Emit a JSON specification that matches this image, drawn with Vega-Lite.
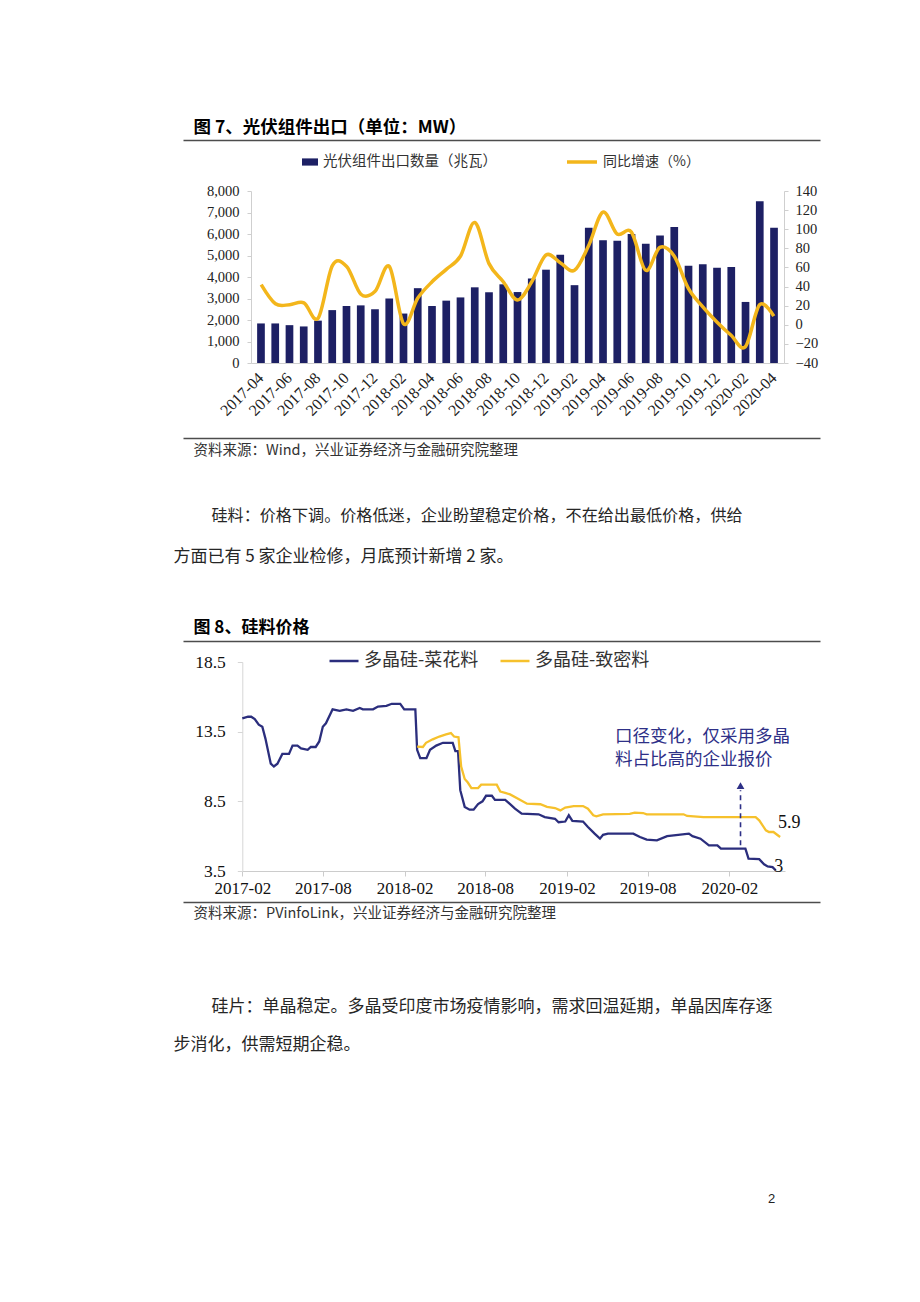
{
  "$schema": "https://vega.github.io/schema/vega-lite/v6.json",
  "width": 920,
  "height": 1302,
  "autosize": {"type": "none"},
  "padding": 0,
  "background": "white",
  "config": {"view": {"stroke": null}, "axis": {"grid": false}},
  "datasets": {
    "exports": [
      {"month": "2017-04", "export": 1840, "yoy": 42},
      {"month": "2017-05", "export": 1840, "yoy": 22},
      {"month": "2017-06", "export": 1760, "yoy": 21},
      {"month": "2017-07", "export": 1700, "yoy": 23},
      {"month": "2017-08", "export": 1970, "yoy": 7},
      {"month": "2017-09", "export": 2460, "yoy": 62},
      {"month": "2017-10", "export": 2650, "yoy": 61},
      {"month": "2017-11", "export": 2680, "yoy": 32},
      {"month": "2017-12", "export": 2500, "yoy": 35},
      {"month": "2018-01", "export": 3000, "yoy": 61},
      {"month": "2018-02", "export": 2300, "yoy": 1},
      {"month": "2018-03", "export": 3480, "yoy": 28},
      {"month": "2018-04", "export": 2650, "yoy": 45},
      {"month": "2018-05", "export": 2900, "yoy": 58},
      {"month": "2018-06", "export": 3050, "yoy": 72},
      {"month": "2018-07", "export": 3520, "yoy": 107},
      {"month": "2018-08", "export": 3290, "yoy": 64},
      {"month": "2018-09", "export": 3660, "yoy": 45},
      {"month": "2018-10", "export": 3300, "yoy": 26},
      {"month": "2018-11", "export": 3930, "yoy": 45},
      {"month": "2018-12", "export": 4340, "yoy": 73},
      {"month": "2019-01", "export": 5040, "yoy": 65},
      {"month": "2019-02", "export": 3620, "yoy": 57},
      {"month": "2019-03", "export": 6290, "yoy": 83},
      {"month": "2019-04", "export": 5710, "yoy": 118},
      {"month": "2019-05", "export": 5690, "yoy": 95},
      {"month": "2019-06", "export": 6000, "yoy": 97},
      {"month": "2019-07", "export": 5550, "yoy": 57},
      {"month": "2019-08", "export": 5930, "yoy": 81},
      {"month": "2019-09", "export": 6320, "yoy": 72},
      {"month": "2019-10", "export": 4520, "yoy": 38},
      {"month": "2019-11", "export": 4590, "yoy": 19},
      {"month": "2019-12", "export": 4430, "yoy": 3},
      {"month": "2020-01", "export": 4460, "yoy": -11},
      {"month": "2020-02", "export": 2840, "yoy": -23},
      {"month": "2020-03", "export": 7520, "yoy": 21},
      {"month": "2020-04", "export": 6290, "yoy": 9}
    ],
    "price": [
      {"series": "多晶硅-菜花料", "date": "2017-02-01", "price": 14.45},
      {"series": "多晶硅-菜花料", "date": "2017-02-14", "price": 14.57},
      {"series": "多晶硅-菜花料", "date": "2017-02-21", "price": 14.57},
      {"series": "多晶硅-菜花料", "date": "2017-03-01", "price": 14.4},
      {"series": "多晶硅-菜花料", "date": "2017-03-10", "price": 14.0},
      {"series": "多晶硅-菜花料", "date": "2017-03-18", "price": 13.85},
      {"series": "多晶硅-菜花料", "date": "2017-03-25", "price": 13.0},
      {"series": "多晶硅-菜花料", "date": "2017-04-06", "price": 11.2},
      {"series": "多晶硅-菜花料", "date": "2017-04-13", "price": 11.0},
      {"series": "多晶硅-菜花料", "date": "2017-04-21", "price": 11.2},
      {"series": "多晶硅-菜花料", "date": "2017-05-02", "price": 11.9},
      {"series": "多晶硅-菜花料", "date": "2017-05-17", "price": 11.9},
      {"series": "多晶硅-菜花料", "date": "2017-05-25", "price": 12.5},
      {"series": "多晶硅-菜花料", "date": "2017-06-05", "price": 12.5},
      {"series": "多晶硅-菜花料", "date": "2017-06-13", "price": 12.3},
      {"series": "多晶硅-菜花料", "date": "2017-06-28", "price": 12.2},
      {"series": "多晶硅-菜花料", "date": "2017-07-05", "price": 12.4},
      {"series": "多晶硅-菜花料", "date": "2017-07-16", "price": 12.4},
      {"series": "多晶硅-菜花料", "date": "2017-07-24", "price": 12.8},
      {"series": "多晶硅-菜花料", "date": "2017-08-01", "price": 13.85},
      {"series": "多晶硅-菜花料", "date": "2017-08-08", "price": 14.1},
      {"series": "多晶硅-菜花料", "date": "2017-08-23", "price": 15.1},
      {"series": "多晶硅-菜花料", "date": "2017-09-08", "price": 15.0},
      {"series": "多晶硅-菜花料", "date": "2017-09-23", "price": 15.1},
      {"series": "多晶硅-菜花料", "date": "2017-10-08", "price": 15.0},
      {"series": "多晶硅-菜花料", "date": "2017-10-23", "price": 15.2},
      {"series": "多晶硅-菜花料", "date": "2017-10-30", "price": 15.1},
      {"series": "多晶硅-菜花料", "date": "2017-11-22", "price": 15.1},
      {"series": "多晶硅-菜花料", "date": "2017-12-03", "price": 15.3},
      {"series": "多晶硅-菜花料", "date": "2017-12-22", "price": 15.35},
      {"series": "多晶硅-菜花料", "date": "2018-01-03", "price": 15.5},
      {"series": "多晶硅-菜花料", "date": "2018-01-22", "price": 15.5},
      {"series": "多晶硅-菜花料", "date": "2018-01-31", "price": 15.1},
      {"series": "多晶硅-菜花料", "date": "2018-02-25", "price": 15.1},
      {"series": "多晶硅-菜花料", "date": "2018-03-01", "price": 12.2},
      {"series": "多晶硅-菜花料", "date": "2018-03-08", "price": 11.6},
      {"series": "多晶硅-菜花料", "date": "2018-03-22", "price": 11.6},
      {"series": "多晶硅-菜花料", "date": "2018-03-30", "price": 12.2},
      {"series": "多晶硅-菜花料", "date": "2018-04-13", "price": 12.5},
      {"series": "多晶硅-菜花料", "date": "2018-04-28", "price": 12.7},
      {"series": "多晶硅-菜花料", "date": "2018-05-20", "price": 12.7},
      {"series": "多晶硅-菜花料", "date": "2018-05-26", "price": 12.1},
      {"series": "多晶硅-菜花料", "date": "2018-06-01", "price": 12.1},
      {"series": "多晶硅-菜花料", "date": "2018-06-06", "price": 9.3},
      {"series": "多晶硅-菜花料", "date": "2018-06-16", "price": 8.1},
      {"series": "多晶硅-菜花料", "date": "2018-06-27", "price": 7.9},
      {"series": "多晶硅-菜花料", "date": "2018-07-06", "price": 7.9},
      {"series": "多晶硅-菜花料", "date": "2018-07-16", "price": 8.3},
      {"series": "多晶硅-菜花料", "date": "2018-07-26", "price": 8.5},
      {"series": "多晶硅-菜花料", "date": "2018-08-03", "price": 8.9},
      {"series": "多晶硅-菜花料", "date": "2018-08-16", "price": 8.9},
      {"series": "多晶硅-菜花料", "date": "2018-08-23", "price": 8.6},
      {"series": "多晶硅-菜花料", "date": "2018-09-15", "price": 8.6},
      {"series": "多晶硅-菜花料", "date": "2018-09-26", "price": 8.3},
      {"series": "多晶硅-菜花料", "date": "2018-10-07", "price": 7.98},
      {"series": "多晶硅-菜花料", "date": "2018-10-22", "price": 7.62},
      {"series": "多晶硅-菜花料", "date": "2018-11-29", "price": 7.57},
      {"series": "多晶硅-菜花料", "date": "2018-12-13", "price": 7.37},
      {"series": "多晶硅-菜花料", "date": "2019-01-05", "price": 7.25},
      {"series": "多晶硅-菜花料", "date": "2019-01-13", "price": 7.0},
      {"series": "多晶硅-菜花料", "date": "2019-01-28", "price": 7.05},
      {"series": "多晶硅-菜花料", "date": "2019-02-05", "price": 7.5},
      {"series": "多晶硅-菜花料", "date": "2019-02-13", "price": 7.1},
      {"series": "多晶硅-菜花料", "date": "2019-03-09", "price": 7.05},
      {"series": "多晶硅-菜花料", "date": "2019-03-20", "price": 6.66},
      {"series": "多晶硅-菜花料", "date": "2019-04-04", "price": 6.18},
      {"series": "多晶硅-菜花料", "date": "2019-04-16", "price": 5.82},
      {"series": "多晶硅-菜花料", "date": "2019-04-23", "price": 6.1},
      {"series": "多晶硅-菜花料", "date": "2019-05-04", "price": 6.18},
      {"series": "多晶硅-菜花料", "date": "2019-06-30", "price": 6.18},
      {"series": "多晶硅-菜花料", "date": "2019-07-15", "price": 5.94},
      {"series": "多晶硅-菜花料", "date": "2019-07-30", "price": 5.75},
      {"series": "多晶硅-菜花料", "date": "2019-08-22", "price": 5.7},
      {"series": "多晶硅-菜花料", "date": "2019-09-14", "price": 6.0},
      {"series": "多晶硅-菜花料", "date": "2019-09-29", "price": 6.06},
      {"series": "多晶硅-菜花料", "date": "2019-11-02", "price": 6.18},
      {"series": "多晶硅-菜花料", "date": "2019-11-10", "price": 6.0},
      {"series": "多晶硅-菜花料", "date": "2019-11-28", "price": 5.82},
      {"series": "多晶硅-菜花料", "date": "2019-12-17", "price": 5.34},
      {"series": "多晶硅-菜花料", "date": "2020-01-05", "price": 5.34},
      {"series": "多晶硅-菜花料", "date": "2020-01-13", "price": 5.1},
      {"series": "多晶硅-菜花料", "date": "2020-03-08", "price": 5.1},
      {"series": "多晶硅-菜花料", "date": "2020-03-15", "price": 4.39},
      {"series": "多晶硅-菜花料", "date": "2020-04-08", "price": 4.35},
      {"series": "多晶硅-菜花料", "date": "2020-04-19", "price": 3.98},
      {"series": "多晶硅-菜花料", "date": "2020-04-27", "price": 3.83},
      {"series": "多晶硅-菜花料", "date": "2020-05-08", "price": 3.78},
      {"series": "多晶硅-菜花料", "date": "2020-05-15", "price": 3.55},
      {"series": "多晶硅-致密料", "date": "2018-03-01", "price": 12.43},
      {"series": "多晶硅-致密料", "date": "2018-03-14", "price": 12.4},
      {"series": "多晶硅-致密料", "date": "2018-03-21", "price": 12.7},
      {"series": "多晶硅-致密料", "date": "2018-04-05", "price": 12.95},
      {"series": "多晶硅-致密料", "date": "2018-04-20", "price": 13.15},
      {"series": "多晶硅-致密料", "date": "2018-05-05", "price": 13.3},
      {"series": "多晶硅-致密料", "date": "2018-05-16", "price": 13.4},
      {"series": "多晶硅-致密料", "date": "2018-05-23", "price": 13.15},
      {"series": "多晶硅-致密料", "date": "2018-06-02", "price": 13.1},
      {"series": "多晶硅-致密料", "date": "2018-06-08", "price": 11.0},
      {"series": "多晶硅-致密料", "date": "2018-06-16", "price": 10.1},
      {"series": "多晶硅-致密料", "date": "2018-06-23", "price": 9.85},
      {"series": "多晶硅-致密料", "date": "2018-07-01", "price": 9.45},
      {"series": "多晶硅-致密料", "date": "2018-07-16", "price": 9.45},
      {"series": "多晶硅-致密料", "date": "2018-07-23", "price": 9.7},
      {"series": "多晶硅-致密料", "date": "2018-08-27", "price": 9.7},
      {"series": "多晶硅-致密料", "date": "2018-09-04", "price": 9.2},
      {"series": "多晶硅-致密料", "date": "2018-09-15", "price": 9.1},
      {"series": "多晶硅-致密料", "date": "2018-09-26", "price": 9.0},
      {"series": "多晶硅-致密料", "date": "2018-10-18", "price": 8.62},
      {"series": "多晶硅-致密料", "date": "2018-11-03", "price": 8.33},
      {"series": "多晶硅-致密料", "date": "2018-12-03", "price": 8.29},
      {"series": "多晶硅-致密料", "date": "2018-12-18", "price": 8.1},
      {"series": "多晶硅-致密料", "date": "2019-01-05", "price": 8.02},
      {"series": "多晶硅-致密料", "date": "2019-01-17", "price": 7.85},
      {"series": "多晶硅-致密料", "date": "2019-01-28", "price": 8.05},
      {"series": "多晶硅-致密料", "date": "2019-02-16", "price": 8.16},
      {"series": "多晶硅-致密料", "date": "2019-03-09", "price": 8.16},
      {"series": "多晶硅-致密料", "date": "2019-03-20", "price": 7.97},
      {"series": "多晶硅-致密料", "date": "2019-04-01", "price": 7.5},
      {"series": "多晶硅-致密料", "date": "2019-04-08", "price": 7.43},
      {"series": "多晶硅-致密料", "date": "2019-04-23", "price": 7.57},
      {"series": "多晶硅-致密料", "date": "2019-06-22", "price": 7.6},
      {"series": "多晶硅-致密料", "date": "2019-07-03", "price": 7.69},
      {"series": "多晶硅-致密料", "date": "2019-07-22", "price": 7.66},
      {"series": "多晶硅-致密料", "date": "2019-07-30", "price": 7.57},
      {"series": "多晶硅-致密料", "date": "2019-10-21", "price": 7.57},
      {"series": "多晶硅-致密料", "date": "2019-10-29", "price": 7.45},
      {"series": "多晶硅-致密料", "date": "2019-12-05", "price": 7.37},
      {"series": "多晶硅-致密料", "date": "2020-03-31", "price": 7.37},
      {"series": "多晶硅-致密料", "date": "2020-04-08", "price": 7.14},
      {"series": "多晶硅-致密料", "date": "2020-04-23", "price": 6.42},
      {"series": "多晶硅-致密料", "date": "2020-04-30", "price": 6.3},
      {"series": "多晶硅-致密料", "date": "2020-05-10", "price": 6.3},
      {"series": "多晶硅-致密料", "date": "2020-05-25", "price": 5.94}
    ]
  },
  "layer": [
    {
      "data": {"values": [{}]},
      "mark": {"type": "rule", "opacity": 0},
      "encoding": {
        "x": {"datum": 0, "type": "quantitative", "scale": {"domain": [0, 1], "range": [183, 820]},
          "axis": {"orient": "top", "offset": -140, "domain": true, "domainColor": "#4d4d4d", "domainWidth": 1.6, "ticks": false, "labels": false,
            "title": "图 7、光伏组件出口（单位：MW）", "titleX": 193, "titleY": -13, "titleAlign": "left", "titleBaseline": "middle", "titleAngle": 0,
            "titleFont": "Noto Sans CJK SC", "titleFontSize": 17.5, "titleFontWeight": "bold", "titleColor": "#000000"}}
      }
    },
    {
      "data": {"values": [{}]},
      "mark": {"type": "rule", "opacity": 0},
      "encoding": {
        "x": {"datum": 0, "type": "quantitative", "scale": {"domain": [0, 1], "range": [183, 820]},
          "axis": {"orient": "bottom", "offset": -864, "domain": true, "domainColor": "#4d4d4d", "domainWidth": 1.6, "ticks": false, "labels": false,
            "title": "资料来源：Wind，兴业证券经济与金融研究院整理", "titleX": 193, "titleY": 12, "titleAlign": "left", "titleBaseline": "middle", "titleAngle": 0,
            "titleFont": "Noto Sans CJK SC", "titleFontSize": 14.5, "titleFontWeight": "normal", "titleColor": "#333333"}}
      }
    },
    {
      "data": {"values": [{}]},
      "mark": {"type": "rule", "opacity": 0},
      "encoding": {
        "x": {"datum": 0, "type": "quantitative", "scale": {"domain": [0, 1], "range": [173, 780]},
          "axis": {"orient": "top", "offset": 0, "domain": false, "ticks": false, "labels": false,
            "title": "硅料：价格下调。价格低迷，企业盼望稳定价格，不在给出最低价格，供给",
            "titleX": 211, "titleY": 515, "titleAlign": "left", "titleBaseline": "middle", "titleAngle": 0,
            "titleFont": "Noto Sans CJK SC", "titleFontSize": 16.1, "titleFontWeight": "normal", "titleColor": "#262626"}},
        "y": {"datum": 0, "type": "quantitative", "scale": {"domain": [0, 1], "range": [600, 500]},
          "axis": {"orient": "left", "offset": 0, "domain": false, "ticks": false, "labels": false,
            "title": "方面已有 5 家企业检修，月底预计新增 2 家。",
            "titleX": 173, "titleY": 556, "titleAlign": "left", "titleBaseline": "middle", "titleAngle": 0,
            "titleFont": "Noto Sans CJK SC", "titleFontSize": 17, "titleFontWeight": "normal", "titleColor": "#262626"}}
      }
    },
    {
      "data": {"values": [{}]},
      "mark": {"type": "rule", "opacity": 0},
      "encoding": {
        "x": {"datum": 0, "type": "quantitative", "scale": {"domain": [0, 1], "range": [183, 820]},
          "axis": {"orient": "top", "offset": -641, "domain": true, "domainColor": "#4d4d4d", "domainWidth": 1.6, "ticks": false, "labels": false,
            "title": "图 8、硅料价格", "titleX": 193, "titleY": -14, "titleAlign": "left", "titleBaseline": "middle", "titleAngle": 0,
            "titleFont": "Noto Sans CJK SC", "titleFontSize": 17, "titleFontWeight": "bold", "titleColor": "#000000"}}
      }
    },
    {
      "data": {"values": [{}]},
      "mark": {"type": "rule", "opacity": 0},
      "encoding": {
        "x": {"datum": 0, "type": "quantitative", "scale": {"domain": [0, 1], "range": [183, 820]},
          "axis": {"orient": "bottom", "offset": -400, "domain": true, "domainColor": "#4d4d4d", "domainWidth": 1.6, "ticks": false, "labels": false,
            "title": "资料来源：PVinfoLink，兴业证券经济与金融研究院整理", "titleX": 193, "titleY": 11, "titleAlign": "left", "titleBaseline": "middle", "titleAngle": 0,
            "titleFont": "Noto Sans CJK SC", "titleFontSize": 14.5, "titleFontWeight": "normal", "titleColor": "#333333"}}
      }
    },
    {
      "data": {"values": [{}]},
      "mark": {"type": "rule", "opacity": 0},
      "encoding": {
        "x": {"datum": 0, "type": "quantitative", "scale": {"domain": [0, 1], "range": [173, 780]},
          "axis": {"orient": "top", "offset": 0, "domain": false, "ticks": false, "labels": false,
            "title": "硅片：单晶稳定。多晶受印度市场疫情影响，需求回温延期，单晶因库存逐",
            "titleX": 211, "titleY": 1006, "titleAlign": "left", "titleBaseline": "middle", "titleAngle": 0,
            "titleFont": "Noto Sans CJK SC", "titleFontSize": 17, "titleFontWeight": "normal", "titleColor": "#262626"}},
        "y": {"datum": 0, "type": "quantitative", "scale": {"domain": [0, 1], "range": [1100, 1000]},
          "axis": {"orient": "left", "offset": 0, "domain": false, "ticks": false, "labels": false,
            "title": "步消化，供需短期企稳。",
            "titleX": 173, "titleY": 1044, "titleAlign": "left", "titleBaseline": "middle", "titleAngle": 0,
            "titleFont": "Noto Sans CJK SC", "titleFontSize": 17, "titleFontWeight": "normal", "titleColor": "#262626"}}
      }
    },
    {
      "data": {"values": [{}]},
      "mark": {"type": "rule", "opacity": 0},
      "encoding": {
        "x": {"datum": 0, "type": "quantitative", "scale": {"domain": [0, 1], "range": [173, 780]},
          "axis": {"orient": "top", "offset": 0, "domain": false, "ticks": false, "labels": false,
            "title": "2", "titleX": 771, "titleY": 1198, "titleAlign": "center", "titleBaseline": "middle", "titleAngle": 0,
            "titleFont": "Liberation Sans", "titleFontSize": 13, "titleFontWeight": "normal", "titleColor": "#222222"}}
      }
    },
    {
      "data": {"name": "exports"},
      "mark": {"type": "bar"},
      "encoding": {
        "x": {"field": "month", "type": "ordinal",
          "scale": {"type": "band", "range": [251, 784], "paddingInner": 0.46, "paddingOuter": 0.43},
          "axis": {"orient": "bottom", "offset": -939, "title": null, "ticks": false, "domainColor": "#cfcfcf",
            "values": ["2017-04", "2017-06", "2017-08", "2017-10", "2017-12", "2018-02", "2018-04", "2018-06", "2018-08", "2018-10", "2018-12", "2019-02", "2019-04", "2019-06", "2019-08", "2019-10", "2019-12", "2020-02", "2020-04"],
            "labelAngle": -45, "labelAlign": "right", "labelBaseline": "middle", "labelPadding": 12, "labelOverlap": false,
            "labelFont": "Liberation Serif", "labelFontSize": 16, "labelColor": "#222222"}},
        "y": {"field": "export", "type": "quantitative",
          "scale": {"domain": [0, 8000], "range": [363, 191], "nice": false},
          "axis": {"orient": "left", "offset": -251, "title": null, "values": [0, 1000, 2000, 3000, 4000, 5000, 6000, 7000, 8000], "format": ",d",
            "domainColor": "#cfcfcf", "tickColor": "#cfcfcf", "tickSize": 4, "labelPadding": 8,
            "labelFont": "Liberation Serif", "labelFontSize": 14.5, "labelColor": "#222222"}},
        "fill": {"datum": "光伏组件出口数量（兆瓦）", "type": "nominal", "scale": {"range": ["#1d2064"]},
          "legend": {"orient": "none", "legendX": 302, "legendY": 154, "title": null, "symbolType": "M-1,-0.45H1V0.45H-1Z", "symbolSize": 256, "symbolStrokeWidth": 0,
            "labelFont": "Noto Sans CJK SC", "labelFontSize": 14.5, "labelColor": "#333333", "labelOffset": 5, "labelLimit": 400}}
      }
    },
    {
      "data": {"name": "exports"},
      "mark": {"type": "line", "interpolate": "cardinal", "strokeWidth": 3.5},
      "encoding": {
        "x": {"field": "month", "type": "ordinal", "scale": {"type": "point", "range": [251, 784], "padding": 0.716}, "axis": null},
        "y": {"field": "yoy", "type": "quantitative",
          "scale": {"domain": [-40, 140], "range": [363, 191], "nice": false, "zero": false},
          "axis": {"orient": "right", "offset": -136, "title": null, "values": [-40, -20, 0, 20, 40, 60, 80, 100, 120, 140], "format": "d",
            "domainColor": "#cfcfcf", "tickColor": "#cfcfcf", "tickSize": 4, "labelPadding": 7,
            "labelFont": "Liberation Serif", "labelFontSize": 14.5, "labelColor": "#222222"}},
        "stroke": {"datum": "同比增速（%）", "type": "nominal", "scale": {"range": ["#f3b61b"]},
          "legend": {"orient": "none", "legendX": 565, "legendY": 145, "title": null, "symbolType": "stroke", "symbolSize": 900, "symbolStrokeWidth": 3.5,
            "labelFont": "Noto Sans CJK SC", "labelFontSize": 14, "labelColor": "#333333", "labelOffset": 4, "labelLimit": 400}}
      }
    },
    {
      "data": {"name": "price"},
      "mark": {"type": "line", "strokeWidth": 2.3},
      "encoding": {
        "x": {"field": "date", "type": "temporal",
          "scale": {"type": "utc", "domain": [{"year": 2017, "month": 2, "date": 1, "utc": true}, {"year": 2020, "month": 6, "date": 5, "utc": true}], "range": [242.3, 785]},
          "axis": {"orient": "bottom", "offset": -431, "title": null, "format": "%Y-%m", "labelFlush": false,
            "values": [{"year": 2017, "month": 2, "date": 1, "utc": true}, {"year": 2017, "month": 8, "date": 1, "utc": true}, {"year": 2018, "month": 2, "date": 1, "utc": true}, {"year": 2018, "month": 8, "date": 1, "utc": true}, {"year": 2019, "month": 2, "date": 1, "utc": true}, {"year": 2019, "month": 8, "date": 1, "utc": true}, {"year": 2020, "month": 2, "date": 1, "utc": true}],
            "domainColor": "#cccccc", "tickColor": "#cccccc", "tickSize": 5, "labelPadding": 4, "labelOverlap": false,
            "labelFont": "Liberation Serif", "labelFontSize": 17, "labelColor": "#111111"}},
        "y": {"field": "price", "type": "quantitative",
          "scale": {"domain": [3.5, 18.5], "range": [871, 662], "nice": false, "zero": false},
          "axis": {"orient": "left", "offset": -242.3, "title": null, "values": [3.5, 8.5, 13.5, 18.5], "format": ".1f",
            "domainColor": "#d6d6d6", "tickColor": "#d6d6d6", "tickSize": 5, "labelPadding": 12,
            "labelFont": "Liberation Serif", "labelFontSize": 17.5, "labelColor": "#111111"}},
        "stroke": {"field": "series", "type": "nominal",
          "scale": {"domain": ["多晶硅-菜花料", "多晶硅-致密料"], "range": ["#2b2e7d", "#f6c12c"]},
          "legend": {"orient": "none", "legendX": 328, "legendY": 645, "direction": "horizontal", "title": null, "symbolType": "stroke", "symbolSize": 841, "symbolStrokeWidth": 2.5,
            "labelFont": "Noto Sans CJK SC", "labelFontSize": 18, "labelColor": "#333333", "labelOffset": 4, "columnPadding": 16, "labelLimit": 400}}
      }
    },
    {
      "data": {"values": [{"date": "2019-05-20", "price": 13.73, "note": "口径变化，仅采用多晶\n料占比高的企业报价"}]},
      "mark": {"type": "text", "align": "left", "baseline": "top", "lineBreak": "\n", "lineHeight": 23, "font": "Noto Sans CJK SC", "fontSize": 17.5, "color": "#2e3087"},
      "encoding": {
        "x": {"field": "date", "type": "temporal", "scale": {"type": "utc", "domain": [{"year": 2017, "month": 2, "date": 1, "utc": true}, {"year": 2020, "month": 6, "date": 5, "utc": true}], "range": [242.3, 785]}, "axis": null},
        "y": {"field": "price", "type": "quantitative", "scale": {"domain": [3.5, 18.5], "range": [871, 662], "nice": false, "zero": false}, "axis": null},
        "text": {"field": "note"}
      }
    },
    {
      "data": {"values": [{"date": "2020-02-26", "from": 5.35, "to": 9.3}]},
      "mark": {"type": "rule", "strokeDash": [5, 4], "strokeWidth": 1.6, "color": "#2e3087"},
      "encoding": {
        "x": {"field": "date", "type": "temporal", "scale": {"type": "utc", "domain": [{"year": 2017, "month": 2, "date": 1, "utc": true}, {"year": 2020, "month": 6, "date": 5, "utc": true}], "range": [242.3, 785]}, "axis": null},
        "y": {"field": "from", "type": "quantitative", "scale": {"domain": [3.5, 18.5], "range": [871, 662], "nice": false, "zero": false}, "axis": null},
        "y2": {"field": "to"}
      }
    },
    {
      "data": {"values": [{"date": "2020-02-26", "price": 9.62}]},
      "mark": {"type": "point", "shape": "triangle-up", "size": 60, "filled": true, "opacity": 1, "color": "#2e3087"},
      "encoding": {
        "x": {"field": "date", "type": "temporal", "scale": {"type": "utc", "domain": [{"year": 2017, "month": 2, "date": 1, "utc": true}, {"year": 2020, "month": 6, "date": 5, "utc": true}], "range": [242.3, 785]}, "axis": null},
        "y": {"field": "price", "type": "quantitative", "scale": {"domain": [3.5, 18.5], "range": [871, 662], "nice": false, "zero": false}, "axis": null}
      }
    },
    {
      "data": {"values": [{"date": "2020-05-20", "price": 6.96, "label": "5.9"}, {"date": "2020-05-12", "price": 3.8, "label": "3"}]},
      "mark": {"type": "text", "align": "left", "baseline": "middle", "font": "Liberation Serif", "fontSize": 18, "color": "#111111"},
      "encoding": {
        "x": {"field": "date", "type": "temporal", "scale": {"type": "utc", "domain": [{"year": 2017, "month": 2, "date": 1, "utc": true}, {"year": 2020, "month": 6, "date": 5, "utc": true}], "range": [242.3, 785]}, "axis": null},
        "y": {"field": "price", "type": "quantitative", "scale": {"domain": [3.5, 18.5], "range": [871, 662], "nice": false, "zero": false}, "axis": null},
        "text": {"field": "label"}
      }
    }
  ],
  "resolve": {
    "scale": {"x": "independent", "y": "independent", "fill": "independent", "stroke": "independent"},
    "axis": {"x": "independent", "y": "independent"},
    "legend": {"fill": "independent", "stroke": "independent"}
  }
}
